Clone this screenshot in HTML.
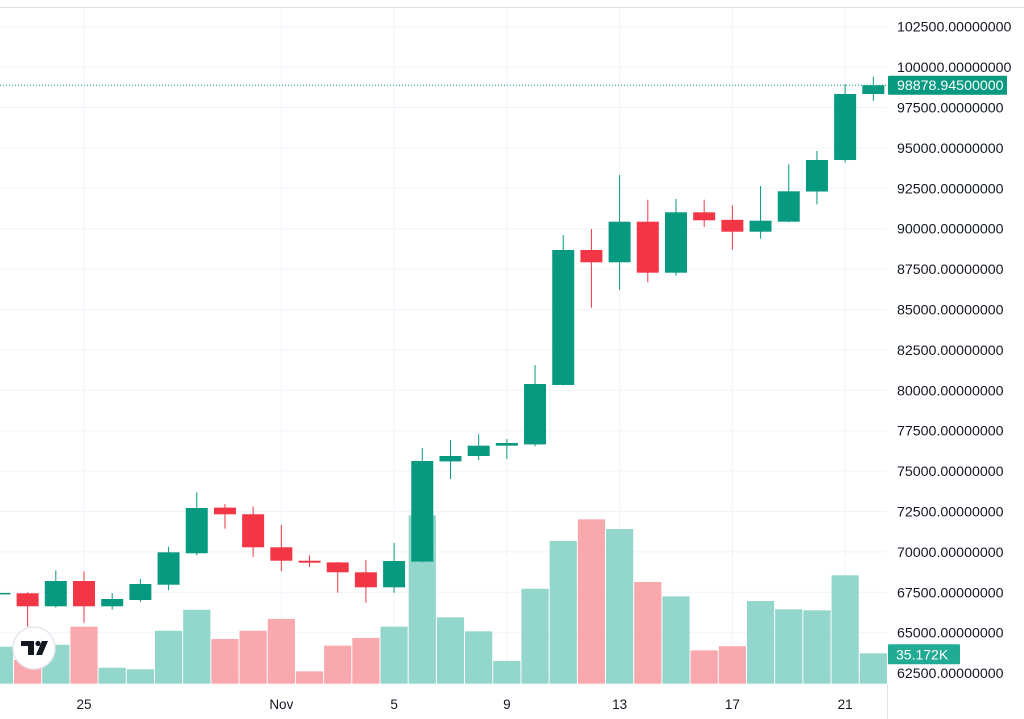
<!DOCTYPE html>
<html><head><meta charset="utf-8"><style>
html,body{margin:0;padding:0;background:#fff;width:1024px;height:719px;overflow:hidden}
svg{display:block;font-family:"Liberation Sans",sans-serif}
</style></head><body>
<svg id="chart" width="1024" height="719" viewBox="0 0 1024 719" xmlns="http://www.w3.org/2000/svg">
<g id="grid"></g>
<g id="volumes"></g>
<g id="candles"></g>
<g id="axes"></g>
</svg>
<script>
const dayIdx = [-3,-2,-1,0,1,2,3,4,5,6,7,8,9,10,11,12,13,14,15,16,17,18,19,20,21,22,23,24,25,26,27,28];
const opens  = [67400,67440,66634,68199,66634,67023,67970,69915,72740,72330,70285,69455,69350,68738,67809,69400,75600,75934,76572,76650,80330,88682,87921,90433,87277,91015,90550,89814,90433,92300,94250,98335];
const highs  = [67500,67500,68861,68800,67440,68323,70322,73688,72964,72800,71664,69790,69380,69499,70550,76428,76924,77277,76985,81566,89610,89981,93323,91795,91838,91795,91448,92642,93985,94808,98954,99406];
const lows   = [67350,65371,66550,65620,66430,66900,67624,69790,71436,69685,68800,69084,67475,66856,67475,69350,74511,75680,75749,76540,80300,85111,86207,86683,87090,90105,88700,89381,90400,91510,94100,97902];
const closes = [67460,66634,68199,66634,67085,68013,69975,72717,72327,70285,69455,69332,68738,67809,69437,75625,75934,76572,76739,80390,88682,87921,90433,87277,91015,90520,89814,90495,92314,94251,98335,98878.945];
const volumes= [42.8,27.4,45.1,66.0,18.5,16.7,61.3,85.6,51.7,61.3,74.9,14.3,44.0,52.9,66.0,194.8,76.8,60.6,26.3,109.9,165.1,190.2,179.0,117.7,101.1,38.6,43.3,95.7,86.1,84.9,125.4,35.172];
const priceTicks = [102500,100000,97500,95000,92500,90000,87500,85000,82500,80000,77500,75000,72500,70000,67500,65000,62500];
const dateTickIdx = [0,7,11,15,19,23,27];
const dateTickLabels = ["25","Nov","5","9","13","17","21"];
const lastPrice = 98878.945;

const NS="http://www.w3.org/2000/svg";
function el(tag,attrs,parent){const e=document.createElementNS(NS,tag);for(const k in attrs)e.setAttribute(k,attrs[k]);parent.appendChild(e);return e;}
const xOf = i => 84 + i*28.19;
const yOf = p => 26.7 + (102500-p)*0.01616;
const volBase = 683.7;
const yVol = v => volBase - v/1.157;
const G="#089981", R="#f23645", GV="#92d6cc", RV="#f9a8ae";
const grid=document.getElementById('grid'), vg=document.getElementById('volumes'), cg=document.getElementById('candles'), ax=document.getElementById('axes');

priceTicks.forEach(p=>{
  const l=el('line',{x1:0,x2:886,y1:yOf(p),y2:yOf(p),stroke:'#f0f3fa','stroke-width':1},grid);
  
  
});
dateTickIdx.forEach(i=>{
  const l=el('line',{x1:xOf(i),x2:xOf(i),y1:8,y2:684,stroke:'#f0f3fa','stroke-width':1},grid);
  
  
});

dayIdx.forEach((d,k)=>{
  const up = closes[k]>=opens[k];
  const x=xOf(d);
  const top=yVol(volumes[k]);
  const vb=el('rect',{x:x-13.6,y:top,width:27.2,height:volBase-top,fill:up?GV:RV},vg);
  
  
});
dayIdx.forEach((d,k)=>{
  const up = closes[k]>=opens[k];
  const c=up?G:R, x=xOf(d);
  const w=el('line',{x1:x,x2:x,y1:yOf(highs[k]),y2:yOf(lows[k]),stroke:c,'stroke-width':1},cg);
  
  
  const yt=yOf(Math.max(opens[k],closes[k])), yb=yOf(Math.min(opens[k],closes[k]));
  const b=el('rect',{x:x-11,y:yt,width:22,height:Math.max(1.5,yb-yt),fill:c},cg);
  
  
});

const lp=el('line',{x1:0,x2:886,y1:yOf(lastPrice),y2:yOf(lastPrice),stroke:G,'stroke-width':1,'stroke-dasharray':'1 2'},ax);



el('line',{x1:0,x2:1024,y1:7.5,y2:7.5,stroke:'#e0e3eb','stroke-width':1},ax);
el('line',{x1:887.5,x2:887.5,y1:684,y2:719,stroke:'#e0e3eb','stroke-width':1},ax);

priceTicks.forEach(p=>{
  const t=el('text',{x:897,y:yOf(p)+5,'font-size':14.2,fill:'#131722'},ax);
  t.textContent=p.toFixed(8);
  
  
});
dateTickIdx.forEach((i,k)=>{
  const t=el('text',{x:xOf(i),y:709,'font-size':13.5,fill:'#131722','text-anchor':'middle'},ax);
  t.textContent=dateTickLabels[k];
  
  
});

const ly=yOf(lastPrice);
const lb=el('rect',{x:888,y:ly-9.5,width:119,height:19,fill:G,rx:1},ax);


const lt=el('text',{x:897,y:ly+5,'font-size':14.2,fill:'#fff'},ax);
lt.textContent=lastPrice.toFixed(8);



const vy=yVol(volumes[volumes.length-1]);
const vbx=el('rect',{x:888,y:vy-9,width:72,height:20,fill:'#22ab94',rx:1},ax);


const vt=el('text',{x:896,y:vy+6,'font-size':14,fill:'#fff'},ax);
vt.textContent=volumes[volumes.length-1].toFixed(3)+'K';



const lg=el('g',{},ax);


el('circle',{cx:34,cy:648,r:21,fill:'#fff',stroke:'#e6e8ee','stroke-width':1.5},lg);
el('rect',{x:21,y:641,width:13,height:5,fill:'#131722'},lg);
el('rect',{x:28,y:641,width:6,height:14,fill:'#131722'},lg);
el('circle',{cx:38,cy:643.5,r:2.6,fill:'#131722'},lg);
el('polygon',{points:'42,641 48,641 42,655 36,655',fill:'#131722'},lg);
</script>
</body></html>
